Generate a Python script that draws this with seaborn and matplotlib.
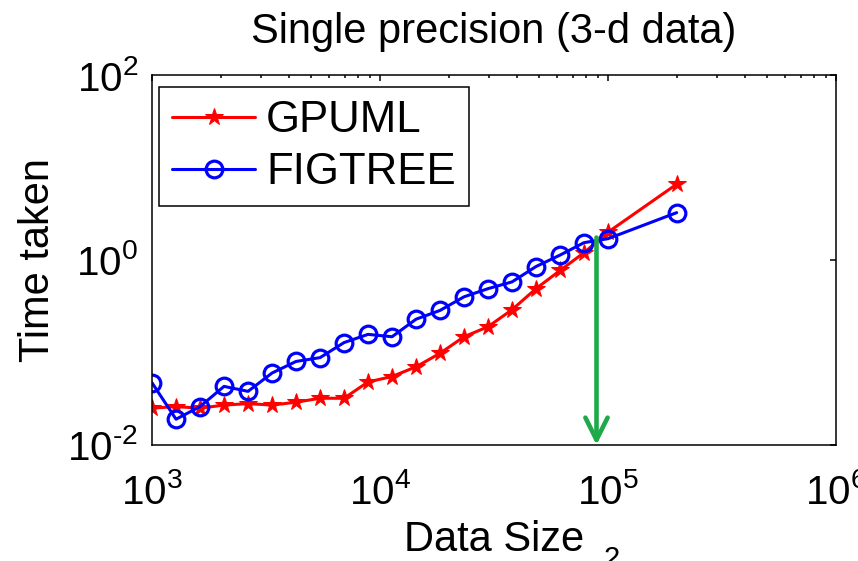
import matplotlib
matplotlib.use("Agg")
import matplotlib.pyplot as plt
import seaborn as sns
import pandas as pd

# data
sizes = [1000, 1274, 1624, 2069, 2637, 3360, 4281, 5456, 6952, 8859, 11288,
         14384, 18330, 23357, 29764, 37927, 48329, 61585, 78476, 100000, 200000]
gpuml = [0.025, 0.026, 0.025, 0.027, 0.028, 0.027, 0.029, 0.032, 0.032, 0.048, 0.055,
         0.070, 0.098, 0.148, 0.19, 0.29, 0.49, 0.77, 1.2, 2.0, 6.6]
figtree = [0.047, 0.019, 0.026, 0.043, 0.038, 0.060, 0.080, 0.088, 0.128, 0.157, 0.148,
           0.229, 0.285, 0.40, 0.49, 0.58, 0.85, 1.13, 1.54, 1.70, 3.25]
xticks = [1e3, 1e4, 1e5, 1e6]
xtick_labels = ["3", "4", "5", "6"]
yticks = [1e-2, 1e0, 1e2]
ytick_labels = ["\u20102", "0", "2"]
arrow_x = 89000
arrow_top = 1.75

sns.set_style("white")
plt.rcParams["font.family"] = ["Liberation Sans", "DejaVu Sans"]
plt.rcParams["mathtext.fontset"] = "custom"
plt.rcParams["mathtext.rm"] = "Liberation Sans"
plt.rcParams["mathtext.it"] = "Liberation Sans"
plt.rcParams["axes.unicode_minus"] = False
for k in ["text.color", "axes.labelcolor", "xtick.color", "ytick.color", "axes.edgecolor"]:
    plt.rcParams[k] = "black"

df = pd.DataFrame({"size": sizes, "GPUML": gpuml, "FIGTREE": figtree})

fig = plt.figure(figsize=(8.58, 5.61), dpi=100)
ax = fig.add_axes([0.1772, 0.2068, 0.7972, 0.6595])

sns.lineplot(data=df, x="size", y="GPUML", ax=ax, color="#ff0000", lw=2.2,
             marker="*", markersize=13, markeredgecolor="#ff0000", label="GPUML")
sns.lineplot(data=df, x="size", y="FIGTREE", ax=ax, color="#0000ff", lw=2.2,
             marker="o", markersize=12, markerfacecolor="none",
             markeredgecolor="#0000ff", markeredgewidth=2.3, label="FIGTREE")

ax.annotate("", xy=(arrow_x, 1e-2), xytext=(arrow_x, arrow_top),
            arrowprops=dict(arrowstyle="->, head_length=0.8, head_width=0.4",
                            color="#1faa4a", lw=3.3, shrinkA=0, shrinkB=0,
                            mutation_scale=20), zorder=5)

ax.set_xscale("log")
ax.set_yscale("log")
ax.set_xlim(1e3, 1e6)
ax.set_ylim(1e-2, 1e2)
ax.set_xticks(xticks)
ax.set_xticklabels([r"$\mathregular{10^{%s}}$" % t for t in xtick_labels])
ax.set_yticks(yticks)
ax.set_yticklabels([r"$\mathregular{10^{%s}}$" % t for t in ytick_labels])
ax.yaxis.set_minor_locator(matplotlib.ticker.NullLocator())
ax.tick_params(which="both", direction="in", top=True, right=True, width=1.1)
ax.tick_params(which="major", length=4.5, labelsize=29)
ax.tick_params(axis="x", which="major", pad=20)
ax.tick_params(axis="y", which="major", pad=10)
ax.tick_params(which="minor", length=2.5)
for s in ax.spines.values():
    s.set_linewidth(1.1)

ax.set_title("Single precision (3-d data)", fontsize=30, pad=23)
ax.set_xlabel("Data Size", fontsize=30, labelpad=6)
ax.set_ylabel("Time taken", fontsize=30, labelpad=7)
fig.text(612 / 858, 1 - 545 / 561, "2", fontsize=21, ha="center", va="top")

leg = ax.legend(loc="upper left", bbox_to_anchor=(0.0102, 0.9676), borderaxespad=0,
                fontsize=31.5, frameon=True, fancybox=False, edgecolor="black",
                framealpha=1, handlelength=1.9, handletextpad=0.25,
                labelspacing=0.25, borderpad=0.3)
leg.get_frame().set_linewidth(1.1)

plt.savefig("out.png", dpi=100)
